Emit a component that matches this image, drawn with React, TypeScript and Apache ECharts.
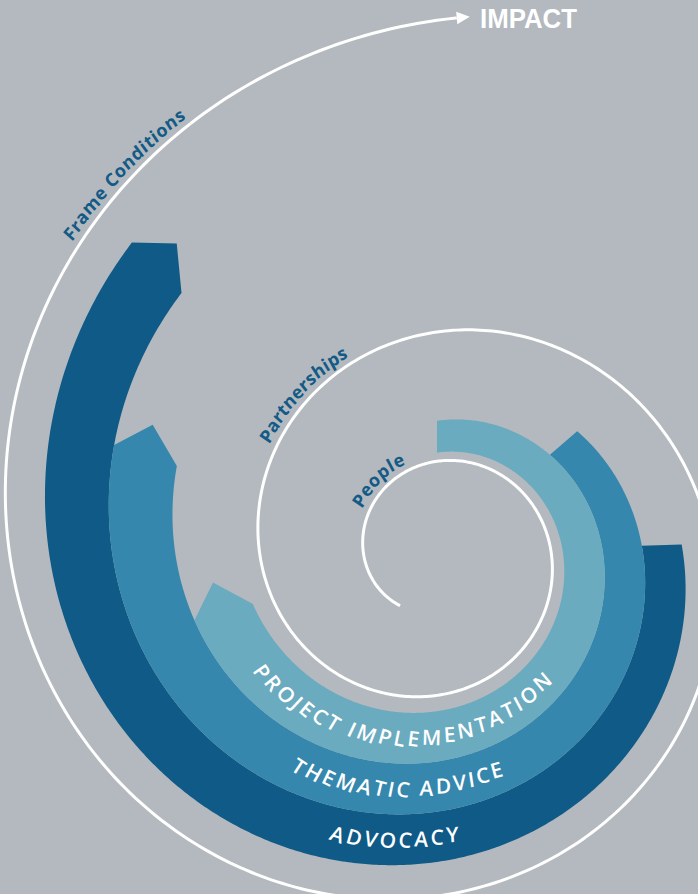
import React, { useEffect, useRef } from "react";
import * as echarts from "echarts";

// ---------- data ----------
const bandNames = ["ADVOCACY", "THEMATIC ADVICE", "PROJECT IMPLEMENTATION"];
const bandStartDeg = [-2, -41, -90];
const bandEndDeg = [225.5, 198.5, 164.5];
const spiralLabels = ["People", "Partnerships", "Frame Conditions"];
const spiralStartDeg = 125;
const spiralEndDeg = 993.5;
const goalLabel = "IMPACT";

// ---------- layout / style ----------
const W = 698;
const H = 894;
const CX = 437;
const CY = 553;
const BAND_K = 0.145;
const bandInner = [206, 166, 126];
const bandOuter = [246, 206, 166];
const bandColors = ["#0f5a87", "#3587ad", "#6aabbf"];
const bandLabelSpan = [
  [109.5, 86.9],
  [122.9, 74.7],
  [145.8, 50.7],
];
const TIP_LEN = 31;
const LINE_A = 73.6;
const LINE_K = 0.14;
const spiralLabelSpan = [
  [214, 247.4],
  [574.5, 604.5],
  [941, 959.5],
];
const SPIRAL_LABEL_OFFSET = 14;
const BG = "#b3b9be";
const TEXT_DARK = "#135a86";
const BAND_FONT = "600 21px 'Open Sans', 'Noto Sans', sans-serif";
const SPIRAL_FONT = "bold 18px 'Open Sans', 'Noto Sans', sans-serif";
const GOAL_FONT = "bold 27px 'Liberation Sans', Arial, sans-serif";

const rad = (d: number) => (d * Math.PI) / 180;
const bandR = (R: number, deg: number) => R * Math.exp(BAND_K * rad(deg));
const lineR = (deg: number) => LINE_A * Math.exp(LINE_K * rad(deg - 180));
const pt = (r: number, deg: number) => [CX + r * Math.cos(rad(deg)), CY + r * Math.sin(rad(deg))];

let measureCtx: CanvasRenderingContext2D | null = null;
function measure(text: string, font: string) {
  if (!measureCtx) measureCtx = document.createElement("canvas").getContext("2d");
  measureCtx!.font = font;
  return measureCtx!.measureText(text).width;
}

function textEl(text: string, x: number, y: number, rotation: number, font: string, fill: string, align = "center", scaleX = 1) {
  return {
    type: "text",
    x,
    y,
    rotation,
    scaleX,
    style: {
      text,
      fill,
      font,
      align,
      verticalAlign: "middle",
      textAlign: align,
      textVerticalAlign: "middle",
    },
  };
}

function curvedText(text: string, font: string, fill: string, rFn: (d: number) => number, degA: number, degB: number, upOutward: boolean) {
  const N = 1200;
  const degs: number[] = [];
  const ss: number[] = [];
  let s = 0;
  const step = (degB - degA) / N;
  for (let i = 0; i <= N; i++) {
    const d = degA + step * i;
    if (i > 0) s += rFn(d - step / 2) * Math.abs(rad(step));
    degs.push(d);
    ss.push(s);
  }
  const L = s;
  const chars = Array.from(text);
  const w = chars.map((c) => measure(c, font));
  let base = 0;
  for (let i = 1; i < chars.length; i++) base += (w[i - 1] + w[i]) / 2;
  const gap = (L - base) / (chars.length - 1);
  const els: any[] = [];
  let c = 0;
  for (let i = 0; i < chars.length; i++) {
    if (i > 0) c += (w[i - 1] + w[i]) / 2 + gap;
    let j = 0;
    while (j < N && ss[j + 1] < c) j++;
    const t = j < N ? (c - ss[j]) / (ss[j + 1] - ss[j] || 1) : 0;
    const d = degs[j] + (j < N ? (degs[j + 1] - degs[j]) * t : 0);
    const [x, y] = pt(rFn(d), d);
    const rot = upOutward ? rad(270 - d) : rad(90 - d);
    if (chars[i] !== " ") els.push(textEl(chars[i], x, y, rot, font, fill));
  }
  return els;
}

function bandPoints(i: number) {
  const s = bandStartDeg[i];
  const e = bandEndDeg[i];
  const Ri = bandInner[i];
  const Ro = bandOuter[i];
  const Rm = (Ri + Ro) / 2;
  const pts: number[][] = [];
  for (let d = s; d < e; d += 0.5) pts.push(pt(bandR(Ro, d), d));
  pts.push(pt(bandR(Ro, e), e));
  const tipDeg = e + ((TIP_LEN / bandR(Rm, e)) * 180) / Math.PI;
  pts.push(pt(bandR(Rm, tipDeg), tipDeg));
  for (let d = e; d > s; d -= 0.5) pts.push(pt(bandR(Ri, d), d));
  pts.push(pt(bandR(Ri, s), s));
  return pts;
}

function renderBand(params: any) {
  const i = params.dataIndex;
  const Rm = (bandInner[i] + bandOuter[i]) / 2;
  return {
    type: "group",
    children: [
      { type: "polygon", shape: { points: bandPoints(i) }, style: { fill: bandColors[i] } },
      ...curvedText(bandNames[i], BAND_FONT, "#ffffff", (d) => bandR(Rm, d), bandLabelSpan[i][0], bandLabelSpan[i][1], false),
    ],
  };
}

function renderSpiral(params: any, api: any) {
  const startDeg = api.value(0);
  const endDeg = api.value(1);
  const ARROW_LEN = 13;
  const ARROW_HALF = 6.3;
  const tip = pt(lineR(endDeg), endDeg);
  const baseDeg = endDeg - ((ARROW_LEN / lineR(endDeg)) * 180) / Math.PI;
  const base = pt(lineR(baseDeg), baseDeg);
  const pts: number[][] = [];
  for (let d = startDeg; d < baseDeg; d += 1) pts.push(pt(lineR(d), d));
  pts.push(base);
  const ux = tip[0] - base[0];
  const uy = tip[1] - base[1];
  const ul = Math.hypot(ux, uy);
  const nx = -uy / ul;
  const ny = ux / ul;
  const children: any[] = [
    {
      type: "polyline",
      shape: { points: pts },
      style: { stroke: "#ffffff", lineWidth: 3, fill: null, lineCap: "butt" },
    },
    {
      type: "polygon",
      shape: {
        points: [
          tip,
          [base[0] + nx * ARROW_HALF, base[1] + ny * ARROW_HALF],
          [base[0] - nx * ARROW_HALF, base[1] - ny * ARROW_HALF],
        ],
      },
      style: { fill: "#ffffff" },
    },
  ];
  spiralLabels.forEach((lab, i) => {
    children.push(
      ...curvedText(
        lab,
        SPIRAL_FONT,
        TEXT_DARK,
        (d) => lineR(d) + SPIRAL_LABEL_OFFSET,
        spiralLabelSpan[i][0],
        spiralLabelSpan[i][1],
        true
      )
    );
  });
  const gw = measure(goalLabel, GOAL_FONT);
  children.push(textEl(goalLabel, 480, 18.5, 0, GOAL_FONT, "#ffffff", "left", 97 / gw));
  return { type: "group", children };
}

function buildOption() {
  return {
    animation: false,
    backgroundColor: BG,
    series: [
      {
        type: "custom",
        coordinateSystem: "none",
        silent: true,
        data: bandNames.map((_, i) => [bandStartDeg[i], bandEndDeg[i]]),
        renderItem: renderBand,
      },
      {
        type: "custom",
        coordinateSystem: "none",
        silent: true,
        data: [[spiralStartDeg, spiralEndDeg]],
        renderItem: renderSpiral,
      },
    ],
  };
}

export default function App() {
  const ref = useRef<HTMLDivElement>(null);
  useEffect(() => {
    const chart = echarts.init(ref.current!, null, { renderer: "svg", width: W, height: H });
    chart.setOption(buildOption() as any);
    return () => chart.dispose();
  }, []);
  return <div ref={ref} style={{ position: "fixed", left: 0, top: 0, width: W, height: H }} />;
}
